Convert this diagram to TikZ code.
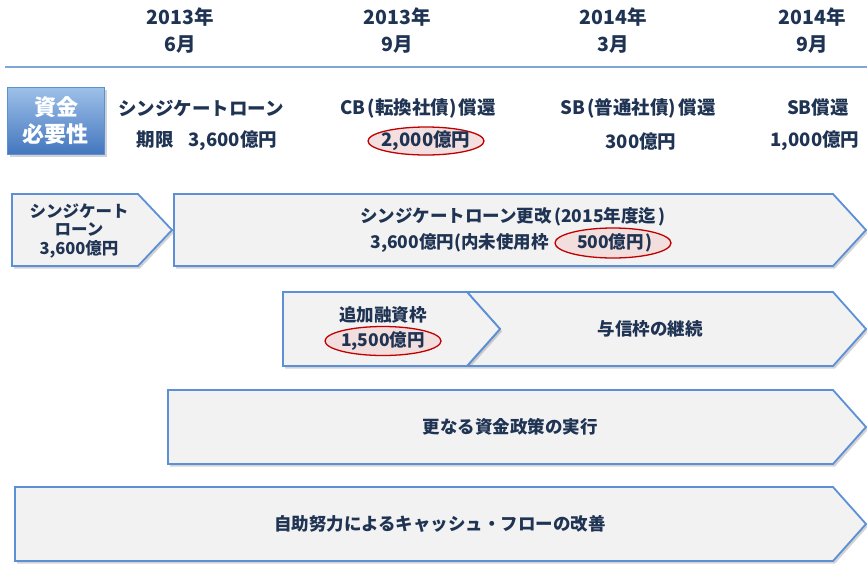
\documentclass[tikz,border=0pt]{standalone}
\usepackage{fontspec}
\setmainfont{Noto Sans CJK JP}
\usetikzlibrary{shadows,shapes.geometric}
\definecolor{txt}{HTML}{1F3353}
\definecolor{edge}{HTML}{5B8FD6}
\definecolor{boxfill}{HTML}{F2F2F2}
\definecolor{ovred}{HTML}{C00000}
\definecolor{ovfill}{HTML}{F2DCDB}
\definecolor{bluetop}{HTML}{9DC0E8}
\definecolor{bluebot}{HTML}{4376BE}
\definecolor{rule}{HTML}{7FA6D8}
\pgfdeclarelayer{shapes}
\pgfdeclarelayer{ovals}
\pgfsetlayers{shapes,ovals,main}
\newcommand{\lp}{\hspace{2.5pt}(}
\newcommand{\rp}{)\hspace{2.5pt}}
\begin{document}
\begin{tikzpicture}[x=1pt,y=-1pt,
 arrowshape/.style={draw=edge, line width=1.8pt, line join=miter, fill=boxfill,
   drop shadow={shadow xshift=2pt,shadow yshift=-2.5pt,opacity=0.35}},
 lbl/.style={text=txt, font=\bfseries\fontsize{17.5}{21}\selectfont, align=center, inner sep=0pt},
 hdr/.style={text=txt, font=\bfseries\fontsize{19.5}{27}\selectfont, align=center, inner sep=0pt},
 rowtxt/.style={text=txt, font=\bfseries\fontsize{18.5}{20}\selectfont, inner sep=0pt},
 oval/.style={draw=ovred, line width=1.3pt, fill=ovfill, fill opacity=0.9}
]
\useasboundingbox (0,0) rectangle (867,563);

% header
\node[hdr] (h1) at (180,31) {2013年\\6月};
\node[hdr] (h2) at (397,31) {2013年\\9月};
\node[hdr] (h3) at (613,31) {2014年\\3月};
\node[hdr] (h4) at (812,31) {2014年\\9月};
\coordinate (rl) at (5,67);
\coordinate (rr) at (867,67);
\draw[rule, line width=1.5pt] (rl) -- (rr);

% need box
\node[draw=edge, line width=0.8pt, top color=bluetop, bottom color=bluebot,
  minimum width=97pt, minimum height=67pt, inner sep=0pt, align=center,
  text=white, font=\bfseries\fontsize{22}{27}\selectfont,
  drop shadow={shadow xshift=2pt,shadow yshift=-2.5pt,opacity=0.35}] (need) at (56,121) {資金\\必要性};

% row
\node[rowtxt] (r1a) at (201,108) {シンジケートローン};
\node[rowtxt] (r1b) at (207,141) {期限\hspace{0.8em}3,600億円};
\node[rowtxt] (r2a) at (418,108) {CB\lp 転換社債\rp 償還};
\node[rowtxt] (r2b) at (426,141) {2,000億円};
\node[rowtxt] (r3a) at (638,108) {SB\lp 普通社債\rp 償還};
\node[rowtxt] (r3b) at (641,141) {300億円};
\node[rowtxt] (r4a) at (818,108) {SB償還};
\node[rowtxt] (r4b) at (815,141) {1,000億円};

% shapes
\begin{pgfonlayer}{shapes}
\draw[arrowshape] (12,194) -- (138,194) -- (172,230) -- (138,266) -- (12,266) -- cycle;
\draw[arrowshape] (174,194) -- (833,194) -- (866,230) -- (833,266) -- (174,266) -- cycle;
\draw[arrowshape] (467,292) -- (833,292) -- (866,329) -- (833,366) -- (467,366) -- (500,329) -- cycle;
\draw[arrowshape] (283,292) -- (467,292) -- (500,329) -- (467,366) -- (283,366) -- cycle;
\draw[arrowshape] (168,390) -- (833,390) -- (866,427) -- (833,464) -- (168,464) -- cycle;
\draw[arrowshape] (15,487) -- (833,487) -- (866,524) -- (833,561) -- (15,561) -- cycle;
\end{pgfonlayer}

\node[lbl, font=\bfseries\fontsize{16.5}{18.5}\selectfont] (s1) at (79,231) {シンジケート\\ローン\\3,600億円};
\node[lbl] (s2a) at (513,217) {シンジケートローン更改\lp 2015年度迄\hspace{2.5pt})};
\node[lbl] (s2c) at (615,243) {500億円\hspace{2pt})};
\node[lbl, anchor=base east] (s2b) at ([xshift=-28pt]s2c.base west) {3,600億円(内未使用枠};
\node[lbl] (s3a) at (383,315) {追加融資枠};
\node[lbl] (s3b) at (383,341) {1,500億円};
\node[lbl] (s4) at (650,329) {与信枠の継続};
\node[lbl] (s5) at (510,427) {更なる資金政策の実行};
\node[lbl] (s6) at (440,524) {自助努力によるキャッシュ・フローの改善};

% ovals
\begin{pgfonlayer}{ovals}
\draw[oval] (r2b.center) ellipse [x radius=58, y radius=14];
\draw[oval] ([xshift=-2pt]s2c.center) ellipse [x radius=58, y radius=15];
\draw[oval] (s3b.center) ellipse [x radius=58, y radius=14.5];
\end{pgfonlayer}
\end{tikzpicture}
\end{document}
